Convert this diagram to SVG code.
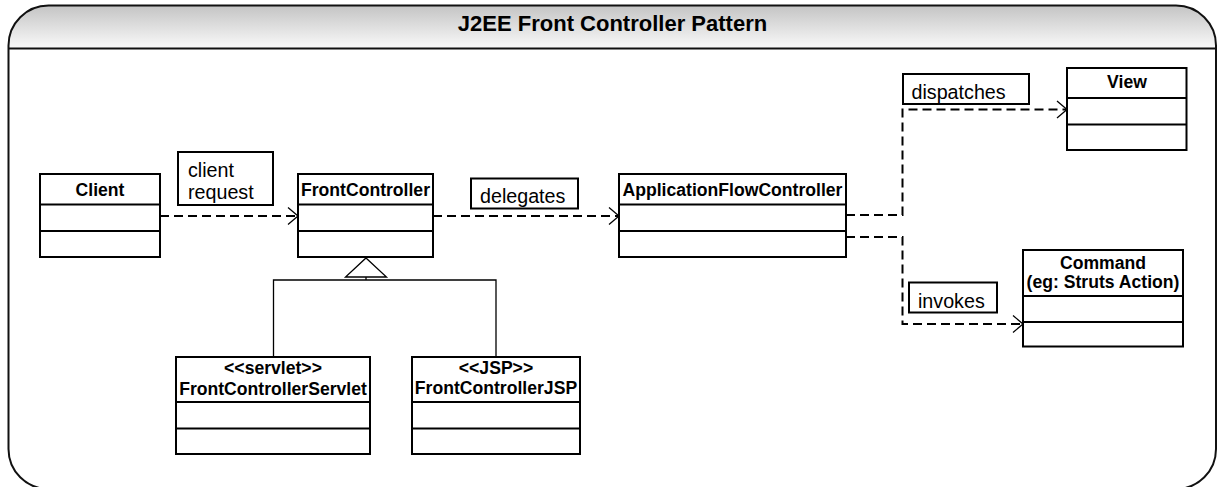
<svg xmlns="http://www.w3.org/2000/svg" width="1219" height="487" viewBox="0 0 1219 487">
<defs>
<linearGradient id="hdr" x1="0" y1="0" x2="0" y2="1">
<stop offset="0" stop-color="#c4c4c4"/>
<stop offset="1" stop-color="#fafafa"/>
</linearGradient>
<marker id="open" markerUnits="userSpaceOnUse" viewBox="-12 -10 14 20" markerWidth="14" markerHeight="20" refX="0" refY="0" orient="auto">
<path d="M -10 -8.5 L 0 0 L -10 8.5" fill="none" stroke="#000" stroke-width="1.3" stroke-dasharray="none"/>
</marker>
<clipPath id="hclip"><rect x="0" y="0" width="1219" height="48.5"/></clipPath>
</defs>
<style>
.box{fill:#fff;stroke:#000;stroke-width:2}
.div{stroke:#000;stroke-width:2}
.bold{font-family:"Liberation Sans",Arial,sans-serif;font-weight:bold;font-size:17.6px;fill:#000;text-anchor:middle}
.lbl{font-family:"Liberation Sans",Arial,sans-serif;font-size:19.7px;fill:#000}
.dash{fill:none;stroke:#000;stroke-width:2;stroke-dasharray:9 5}
.gen{fill:none;stroke:#000;stroke-width:1.3}
</style>
<g id="frame">
<path d="M 8.5 489 L 8.5 45.5 A 40 40 0 0 1 48.5 5.5 L 1176 5.5 A 40 40 0 0 1 1216 45.5 L 1216 489" fill="#fff" stroke="none"/>
<path d="M 8.5 48.5 L 8.5 45.5 A 40 40 0 0 1 48.5 5.5 L 1176 5.5 A 40 40 0 0 1 1216 45.5 L 1216 48.5 Z" fill="url(#hdr)" stroke="none"/>
<path d="M 48.5 489 A 40 40 0 0 1 8.5 449 L 8.5 45.5 A 40 40 0 0 1 48.5 5.5 L 1176 5.5 A 40 40 0 0 1 1216 45.5 L 1216 449 A 40 40 0 0 1 1176 489 Z" fill="none" stroke="#111" stroke-width="2"/>
<line x1="8.5" y1="48.5" x2="1216" y2="48.5" stroke="#111" stroke-width="2"/>
<text x="612.5" y="31" font-family="Liberation Sans, Arial, sans-serif" font-weight="bold" font-size="22" text-anchor="middle" fill="#000">J2EE Front Controller Pattern</text>
</g>
<g id="connectors">
<path class="dash" d="M 160 216 L 298 216" marker-end="url(#open)"/>
<path class="dash" d="M 433 216 L 619 216" marker-end="url(#open)"/>
<path class="dash" d="M 846 215 L 902.5 215 L 902.5 109.5 L 1067 109.5" marker-end="url(#open)"/>
<path class="dash" d="M 846 237 L 902.5 237 L 902.5 324 L 1023 324" marker-end="url(#open)"/>
<path class="gen" d="M 273.5 357 L 273.5 280 L 496 280 L 496 357 M 366 280 L 366 277"/>
<path class="gen" d="M 366 258 L 386.5 277 L 345.5 277 Z" fill="#fff"/>
</g>
<g id="label-client-request">
<rect x="178" y="152" width="95" height="53" fill="#fff" stroke="#000" stroke-width="2"/>
<text class="lbl" x="188" y="177">client</text>
<text class="lbl" x="188" y="199">request</text>
</g>
<g id="label-delegates">
<rect x="471" y="178.5" width="107" height="30" fill="#fff" stroke="#000" stroke-width="2"/>
<text class="lbl" x="480" y="203">delegates</text>
</g>
<g id="label-dispatches">
<rect x="903" y="74" width="126" height="30" fill="#fff" stroke="#000" stroke-width="2"/>
<text class="lbl" x="911.5" y="99">dispatches</text>
</g>
<g id="label-invokes">
<rect x="909" y="282.5" width="88" height="30" fill="#fff" stroke="#000" stroke-width="2"/>
<text class="lbl" x="918" y="307.5">invokes</text>
</g>
<g id="client">
<rect class="box" x="40" y="174" width="120" height="83"/>
<line class="div" x1="40" y1="204.5" x2="160" y2="204.5"/>
<line class="div" x1="40" y1="231" x2="160" y2="231"/>
<text class="bold" x="100" y="196">Client</text>
</g>
<g id="front-controller">
<rect class="box" x="298" y="174" width="135" height="83"/>
<line class="div" x1="298" y1="204.5" x2="433" y2="204.5"/>
<line class="div" x1="298" y1="231" x2="433" y2="231"/>
<text class="bold" x="365.5" y="196">FrontController</text>
</g>
<g id="application-flow-controller">
<rect class="box" x="619" y="174" width="227" height="83"/>
<line class="div" x1="619" y1="204.5" x2="846" y2="204.5"/>
<line class="div" x1="619" y1="231" x2="846" y2="231"/>
<text class="bold" x="732.5" y="195.5">ApplicationFlowController</text>
</g>
<g id="view">
<rect class="box" x="1067" y="68" width="119.5" height="82"/>
<line class="div" x1="1067" y1="98" x2="1186.5" y2="98"/>
<line class="div" x1="1067" y1="124.5" x2="1186.5" y2="124.5"/>
<text class="bold" x="1127" y="87.5">View</text>
</g>
<g id="command">
<rect class="box" x="1023" y="250" width="160" height="96.5"/>
<line class="div" x1="1023" y1="296" x2="1183" y2="296"/>
<line class="div" x1="1023" y1="322" x2="1183" y2="322"/>
<text class="bold" x="1103" y="268.5">Command</text>
<text class="bold" x="1103" y="287.5">(eg: Struts Action)</text>
</g>
<g id="front-controller-servlet">
<rect class="box" x="176" y="357" width="194" height="97"/>
<line class="div" x1="176" y1="402" x2="370" y2="402"/>
<line class="div" x1="176" y1="428.5" x2="370" y2="428.5"/>
<text class="bold" x="273" y="374">&lt;&lt;servlet&gt;&gt;</text>
<text class="bold" x="273" y="395">FrontControllerServlet</text>
</g>
<g id="front-controller-jsp">
<rect class="box" x="412" y="357" width="168" height="97"/>
<line class="div" x1="412" y1="402" x2="580" y2="402"/>
<line class="div" x1="412" y1="428.5" x2="580" y2="428.5"/>
<text class="bold" x="496" y="374">&lt;&lt;JSP&gt;&gt;</text>
<text class="bold" x="496" y="394">FrontControllerJSP</text>
</g>
</svg>
